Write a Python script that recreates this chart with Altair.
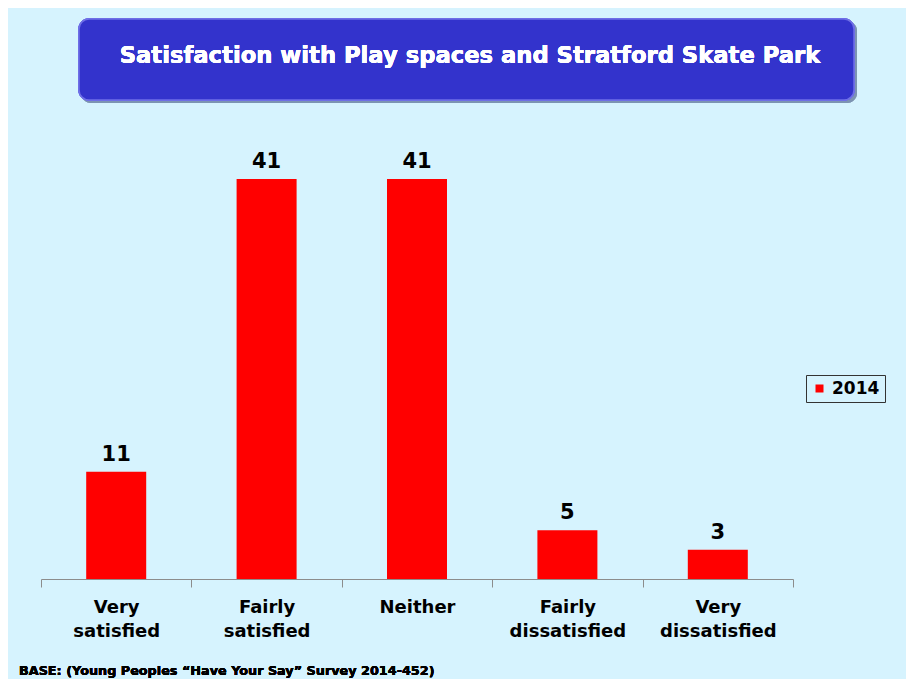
import altair as alt
import pandas as pd

categories = ["Very satisfied", "Fairly satisfied", "Neither", "Fairly dissatisfied", "Very dissatisfied"]
values = [11, 41, 41, 5, 3]
series = ["2014"] * 5
title_text = "Satisfaction with Play spaces and Stratford Skate Park"
footnote = "BASE: (Young Peoples \u201cHave Your Say\u201d Survey 2014-452)"

df = pd.DataFrame({"category": categories, "value": values, "series": series})

FONT = "DejaVu Sans"
BG = "#D6F3FE"

x = alt.X("category:N", sort=categories,
          scale=alt.Scale(paddingInner=0, paddingOuter=0),
          axis=alt.Axis(title=None, labelAngle=0, labelFont=FONT, labelFontSize=18,
                        labelFontWeight="bold", labelColor="black", labelPadding=11,
                        labelLineHeight=24, labelExpr="split(datum.label, ' ')",
                        domainColor="#8c8c8c", tickColor="#8c8c8c", tickSize=8,
                        tickBand="extent", labelBaseline="top"))
y = alt.Y("value:Q", scale=alt.Scale(domain=[0, 45]), axis=None)

bars = alt.Chart(df).mark_bar(size=60, color="red").encode(
    x=x, y=y,
    fill=alt.Fill("series:N", scale=alt.Scale(range=["red"]),
                  legend=alt.Legend(title=None, orient="none", legendX=765, legendY=235,
                                    symbolType="square", symbolSize=64, symbolStrokeWidth=0,
                                    labelFont=FONT, labelFontSize=17, labelFontWeight="bold",
                                    labelColor="black", strokeColor="#333333", padding=5,
                                    fillColor=BG, symbolOffset=0)))

labels = alt.Chart(df).mark_text(baseline="bottom", dy=-7, font=FONT, fontSize=21,
                                 fontWeight="bold", color="black").encode(
    x=alt.X("category:N", sort=categories), y=y, text="value:Q")

shadow = alt.Chart(df).mark_rect(cornerRadius=10, color="#7a8fb0", opacity=0.5, clip=False).encode(
    x=alt.value(40), x2=alt.value(816), y=alt.value(-119), y2=alt.value(-37))
box = alt.Chart(df).mark_rect(cornerRadius=10, color="#3333CC", stroke="#6f6fe6",
                              strokeWidth=1.5, clip=False).encode(
    x=alt.value(38), x2=alt.value(813), y=alt.value(-121), y2=alt.value(-40))
title = alt.Chart(df).mark_text(font=FONT, fontSize=22.7, fontWeight="bold", color="white",
                                align="center", baseline="middle").encode(
    x=alt.value(429), y=alt.value(-84), text=alt.value(title_text))
foot = alt.Chart(df).mark_text(font=FONT, fontSize=12.8, fontWeight="bold", color="black",
                               align="left", baseline="middle").encode(
    x=alt.value(-22), y=alt.value(531), text=alt.value(footnote))

chart = alt.layer(shadow, box, title, bars, labels, foot).properties(
    width=752, height=439,
    autosize=alt.AutoSizeParams(type="none"),
    padding={"left": 33, "top": 132, "right": 113, "bottom": 100},
    background=BG,
).configure_view(stroke=None)

chart.save("out.html", embed_options={"renderer": "svg", "actions": False})
